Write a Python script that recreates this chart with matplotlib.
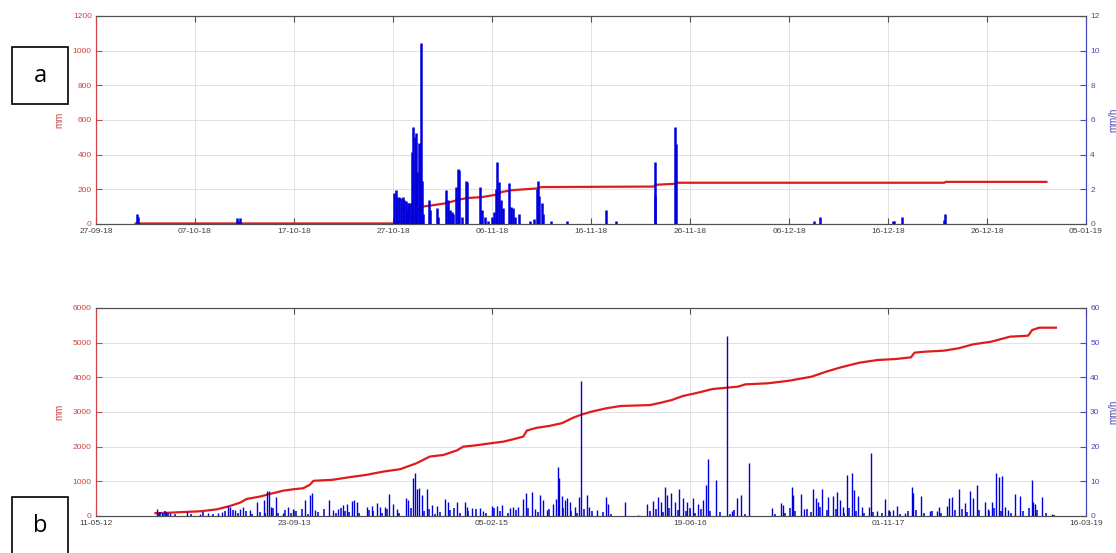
import numpy as np
import matplotlib
matplotlib.use("Agg")
import matplotlib.pyplot as plt
import matplotlib.dates as mdates
from matplotlib.patches import Rectangle
from datetime import datetime, timedelta

# ---------------- data: panel a (2018-09-27 .. 2019-01-05) ----------------
a_start = "27-09-18"
a_xticks = ["27-09-18", "07-10-18", "17-10-18", "27-10-18", "06-11-18", "16-11-18",
            "26-11-18", "06-12-18", "16-12-18", "26-12-18", "05-01-19"]
a_bar_day = [4.10, 4.25, 14.20, 14.35, 14.50,
             30.14, 30.27, 30.44, 30.64, 30.77, 30.98, 31.11, 31.31, 31.45, 31.55, 31.65, 31.78,
             31.92, 32.05, 32.19, 32.32, 32.46, 32.59, 32.73, 32.83, 32.93, 33.06,
             33.60, 33.74, 34.41, 34.55, 35.35, 35.52, 35.76, 35.93, 36.09, 36.36, 36.57,
             36.70, 36.94, 37.37, 37.51, 38.79, 38.96, 39.29, 39.63, 39.97, 40.20, 40.40,
             40.54, 40.71, 40.88, 41.08, 41.72, 41.89, 42.16, 42.32, 42.76, 43.84, 44.24,
             44.51, 44.65, 44.78, 45.02, 45.18, 45.93, 47.61, 51.51, 52.53, 56.43, 56.50,
             58.45, 58.58, 72.50, 73.10, 80.50, 80.60, 81.40, 85.70, 85.80]
a_bar_val = [0.56, 0.40, 0.36, 0.20, 0.36,
             1.77, 1.96, 1.58, 1.58, 1.50, 1.58, 1.38, 1.30, 0.80, 1.20, 1.20, 1.20,
             4.17, 5.60, 5.04, 5.23, 3.00, 4.65, 4.60, 10.46, 2.50, 0.60,
             1.38, 0.80, 0.90, 0.40, 1.96, 1.40, 0.80, 0.70, 0.60, 2.15, 3.20,
             3.10, 0.40, 2.50, 2.40, 2.15, 0.80, 0.40, 0.20, 0.40, 0.70, 2.00,
             3.60, 2.40, 1.40, 0.90, 2.38, 1.00, 0.90, 0.40, 0.60, 0.20, 0.30,
             2.00, 2.50, 1.60, 1.20, 0.60, 0.20, 0.20, 0.80, 0.20, 3.60, 1.60,
             5.58, 4.60, 0.20, 0.40, 0.20, 0.20, 0.40, 0.25, 0.60]
a_cum_day = [4.0, 30.0, 31.9, 32.3, 32.9, 33.6, 35.4, 36.6, 37.5, 39.0, 40.5, 41.0,
             42.0, 44.5, 45.0, 56.4, 56.5, 58.45, 58.6, 85.7, 85.8, 96.0]
a_cum_mm = [3, 3, 20, 60, 100, 105, 120, 140, 150, 155, 170, 185,
            195, 205, 213, 216, 226, 232, 238, 238, 243, 243]

# ---------------- data: panel b (2012-05-11 .. 2019-03-16) ----------------
b_start = "11-05-12"
b_xticks = ["11-05-12", "23-09-13", "05-02-15", "19-06-16", "01-11-17", "16-03-19"]
b_bar_day = [153, 166, 178, 187, 229, 263, 284, 309, 317, 334, 338, 351, 364, 372, 389,
             406, 423, 431, 436, 441, 455, 471, 486, 498, 528, 540, 546, 553, 589, 599,
             612, 623, 633, 646, 652, 658, 684, 696, 709, 717, 730, 741, 751, 759, 783,
             789, 801, 806, 810, 816, 822, 837, 848, 860, 881, 890, 911, 932, 936,
             948.6, 969.7, 978.1, 999.1, 1011.8, 1024.4, 1045.4, 1053.8, 1066.5, 1079.1,
             1085.8, 1100.1, 1108.5, 1121.2, 1129.6, 1138.0, 1154.9, 1161.6, 1167.5, 1170.0,
             1175.9, 1184.3, 1190.2, 1196.9, 1209.6, 1220.5, 1225.6, 1239.0, 1245.8, 1264.3,
             1287.9, 1293.8, 1335.8, 1369.5, 1392.3, 1405.7, 1420.0, 1425.9, 1436.9, 1442.7,
             1451.2, 1462.1, 1473.0, 1483.2, 1493.3, 1506.7, 1521.0, 1533.7, 1540.4, 1546.3,
             1565.6, 1594.3, 1605.2, 1617.8, 1628.0, 1649.8, 1706.2, 1729.0, 1735.7,
             1756.7, 1760.9, 1779.4, 1787.9, 1811.4, 1818.2, 1824.1, 1834.2, 1849.3, 1860.3,
             1872.0, 1878.8, 1885.5, 1897.3, 1908.2, 1915.0, 1925.1, 1933.5, 1952.0, 1957.1,
             1973.0, 1992.4, 2001.7, 2011.8, 2023.6, 2042.9, 2059.8, 2064.0, 2082.5, 2106.1,
             2122.9, 2129.6, 2148.2, 2154.9, 2160.8, 2180.1, 2194.4, 2207.1, 2215.5, 2223.9,
             2244.9, 2253.4, 2261.8, 2272.7, 2280.3, 2288.7, 2295.5, 2303.9, 2320.7, 2333.3,
             2362.8, 2367.0, 2371.2, 2388.1, 2413.3]
b_bar_val = [1.9, 1.0, 1.2, 1.0, 1.2, 0.6, 1.0, 0.8, 1.2, 2.9, 2.5, 1.7, 2.1, 2.5, 1.7,
             4.0, 4.6, 7.3, 7.3, 2.5, 5.6, 1.0, 2.5, 1.9, 4.6, 6.0, 6.5, 1.7, 4.6, 1.7,
             2.1, 3.3, 3.6, 4.4, 4.6, 4.0, 2.7, 2.9, 3.7, 2.7, 2.5, 6.3, 3.5, 1.9, 5.2,
             4.6, 10.9, 12.3, 7.7, 8.1, 6.2, 7.7, 3.3, 2.9, 4.8, 3.9, 3.9, 3.9, 2.5,
             2.2, 2.2, 1.5, 2.9, 2.9, 3.2, 2.2, 2.5, 2.5, 5.0,
             6.5, 7.0, 1.9, 6.1, 4.6, 1.7, 3.6, 4.9, 14.2, 10.9,
             5.8, 4.6, 5.1, 4.1, 2.7, 5.6, 38.8, 6.1, 2.5, 1.7,
             5.6, 3.6, 4.1, 0.3, 3.5, 4.4, 5.6, 3.9, 8.5, 6.1,
             6.7, 4.1, 7.9, 5.1, 4.1, 5.1, 3.6, 4.6, 8.9, 16.3,
             10.4, 52.0, 1.5, 5.1, 6.1, 15.4, 2.2, 3.8, 3.2,
             8.5, 6.1, 6.4, 1.9, 7.9, 5.1, 4.1, 7.7, 5.4, 5.8,
             7.0, 4.6, 2.5, 11.8, 12.5, 7.5, 5.8, 2.5, 2.5, 18.1,
             1.5, 4.8, 1.7, 1.7, 2.9, 0.9, 8.5, 6.5, 5.8, 1.5,
             1.5, 2.5, 2.9, 5.1, 5.4, 7.7, 3.8, 7.3, 5.1, 8.8,
             4.1, 1.9, 4.1, 12.5, 11.3, 11.5, 2.5, 1.7, 6.4, 5.8,
             10.4, 4.0, 3.5, 5.6, 0.5]
b_small_day = [158, 162, 170, 175, 182, 200, 240, 270, 295, 325, 345, 358, 380, 395, 415,
               428, 446, 460, 478, 492, 505, 520, 535, 560, 575, 605, 618, 628, 640, 664,
               690, 700, 722, 735, 765, 795, 828, 842, 855, 868, 895, 905, 918, 940, 960,
               985, 1005, 1020, 1040, 1060, 1092, 1115, 1145, 1180, 1200, 1215, 1232, 1252,
               1280, 1300, 1400, 1415, 1432, 1448, 1470, 1490, 1500, 1512, 1528, 1550, 1575,
               1600, 1612, 1640, 1715, 1740, 1752, 1765, 1795, 1805, 1828, 1845, 1868, 1890,
               1902, 1920, 1940, 1962, 1985, 2005, 2030, 2050, 2070, 2090, 2112, 2135, 2170,
               2186, 2200, 2230, 2255, 2268, 2285, 2310, 2340, 2355, 2366, 2375, 2400, 2420]
b_small_val = [0.8, 1.2, 0.6, 1.4, 0.9, 0.5, 0.7, 1.1, 0.6, 1.3, 1.8, 0.9, 1.5, 0.7, 1.2,
               0.9, 2.2, 1.0, 1.6, 0.8, 1.3, 2.0, 0.7, 1.1, 1.9, 0.8, 2.4, 1.5, 1.2, 0.9,
               1.7, 1.3, 0.8, 2.1, 1.0, 2.3, 1.4, 2.0, 0.7, 1.1, 1.8, 2.2, 0.9, 1.4, 1.9,
               1.0, 2.2, 1.3, 0.8, 1.6, 2.4, 1.1, 1.9, 2.3, 1.5, 0.9, 2.0, 1.4,
               1.2, 0.6, 1.5, 2.1, 1.2, 2.4, 1.8, 1.3, 2.2, 1.0, 1.9, 1.4, 1.1,
               0.7, 1.6, 0.5, 0.6, 1.0, 2.3, 1.4, 2.0, 1.2, 2.5, 1.7, 2.1, 1.0,
               2.2, 1.5, 0.8, 1.2, 0.9, 1.1, 0.7, 1.3, 1.8, 0.9, 1.4, 1.0, 1.6,
               2.0, 1.2, 1.7, 1.4, 2.2, 1.3, 0.9, 1.5, 2.4, 2.0, 1.6, 0.8, 0.4]
b_cum_day = [150, 187, 221, 263, 305, 338, 364, 380, 414, 439, 473, 498, 523, 540, 549,
             598, 640, 682, 725, 768, 810, 843, 877, 911, 927, 960, 995, 1029, 1054, 1079,
             1088, 1113, 1146, 1177, 1205, 1223, 1251, 1288, 1325, 1399, 1427, 1454, 1482,
             1520, 1557, 1594, 1621, 1640, 1696, 1751, 1807, 1844, 1881, 1928, 1974, 2020,
             2058, 2067, 2095, 2141, 2178, 2215, 2261, 2308, 2354, 2364, 2382, 2424]
b_cum_mm = [80, 96, 115, 135, 192, 288, 385, 490, 560, 635, 731, 770, 800, 900, 1015,
            1045, 1120, 1185, 1280, 1350, 1525, 1715, 1760, 1890, 2000, 2040, 2095, 2145, 2215, 2290,
            2465, 2545, 2600, 2680, 2835, 2913, 3009, 3106, 3173, 3200, 3270, 3346, 3461,
            3557, 3663, 3702, 3731, 3798, 3827, 3904, 4019, 4164, 4289, 4423, 4500, 4529,
            4577, 4712, 4741, 4769, 4837, 4952, 5029, 5173, 5202, 5365, 5432, 5432]

# ---------------- styling ----------------
RED = "#e01b1b"
RED_TXT = "#cc4444"
BLUE = "#0000dd"
BLUE_TXT = "#4848b8"
GRAY = "#505050"
FONT = "Liberation Sans"
FS = 6

W, H = 1116, 553


def dates(start, offs):
    s = datetime.strptime(start, "%d-%m-%y")
    return [s + timedelta(days=float(d)) for d in offs]


def style(axl, axr, ticks, ylim_l, yt_l, ylim_r, yt_r):
    tick_dates = [datetime.strptime(t, "%d-%m-%y") for t in ticks]
    for ax in (axl, axr):
        ax.set_xlim(tick_dates[0], tick_dates[-1])
        ax.set_xticks(tick_dates)
        ax.xaxis.set_major_formatter(mdates.DateFormatter("%d-%m-%y"))
        ax.tick_params(axis="x", direction="in", length=4, top=True, color=GRAY,
                       labelsize=FS, labelcolor="#404040", pad=3)
        for sp in ("top", "bottom"):
            ax.spines[sp].set_color(GRAY)
            ax.spines[sp].set_linewidth(0.8)
        ax.spines["left"].set_color(RED_TXT)
        ax.spines["right"].set_color(BLUE_TXT)
        for sp in ("left", "right"):
            ax.spines[sp].set_linewidth(0.8)
    axl.set_ylim(*ylim_l)
    axl.set_yticks(yt_l)
    axr.set_ylim(*ylim_r)
    axr.set_yticks(yt_r)
    axl.tick_params(axis="y", direction="in", length=4, color=RED_TXT,
                    labelsize=FS, labelcolor=RED_TXT, pad=3)
    axr.tick_params(axis="y", direction="in", length=4, color=BLUE_TXT,
                    labelsize=FS, labelcolor=BLUE_TXT, pad=3)
    axl.grid(True, color="#dddddd", linewidth=0.6)
    axl.set_axisbelow(True)
    axl.set_ylabel("mm", color=RED_TXT, fontsize=7, labelpad=6)
    axr.set_ylabel("mm/h", color=BLUE_TXT, fontsize=7, labelpad=6)
    for lab in axl.get_xticklabels() + axl.get_yticklabels() + axr.get_yticklabels():
        lab.set_fontfamily(FONT)


plt.rcParams["font.family"] = [FONT, "DejaVu Sans"]
fig = plt.figure(figsize=(W / 100, H / 100), dpi=100)

# panel a
ax1 = fig.add_axes([96 / W, 1 - 224 / H, 990 / W, 208 / H])
ax1r = ax1.twinx()
ax1.plot(dates(a_start, a_cum_day), a_cum_mm, color=RED, lw=1.6, zorder=3)
ax1r.vlines(dates(a_start, a_bar_day), 0, a_bar_val, color=BLUE, lw=1.8)
style(ax1, ax1r, a_xticks, (0, 1200), np.arange(0, 1201, 200), (0, 12), np.arange(0, 13, 2))

# panel b
ax2 = fig.add_axes([96 / W, 1 - 516 / H, 990 / W, 208 / H])
ax2r = ax2.twinx()
ax2.plot(dates(b_start, b_cum_day), b_cum_mm, color=RED, lw=1.6, zorder=3)
ax2r.vlines(dates(b_start, b_small_day), 0, b_small_val, color=BLUE, lw=1.1)
ax2r.vlines(dates(b_start, b_bar_day), 0, b_bar_val, color=BLUE, lw=1.0)
style(ax2, ax2r, b_xticks, (0, 6000), np.arange(0, 6001, 1000), (0, 60), np.arange(0, 61, 10))

# boxed panel letters
for letter, y0, y1 in (("a", 47, 104), ("b", 497, 560)):
    fig.add_artist(Rectangle((12 / W, 1 - y1 / H), 56 / W, (y1 - y0) / H,
                             transform=fig.transFigure, fill=False, ec="black", lw=1.2))
    yc = (y0 + y1) / 2 if letter == "a" else 526
    fig.text(40 / W, 1 - yc / H, letter, ha="center", va="center", fontsize=17,
             family=["Open Sans", "DejaVu Sans"], color="black")

fig.savefig("out.png", dpi=100, facecolor="white")
